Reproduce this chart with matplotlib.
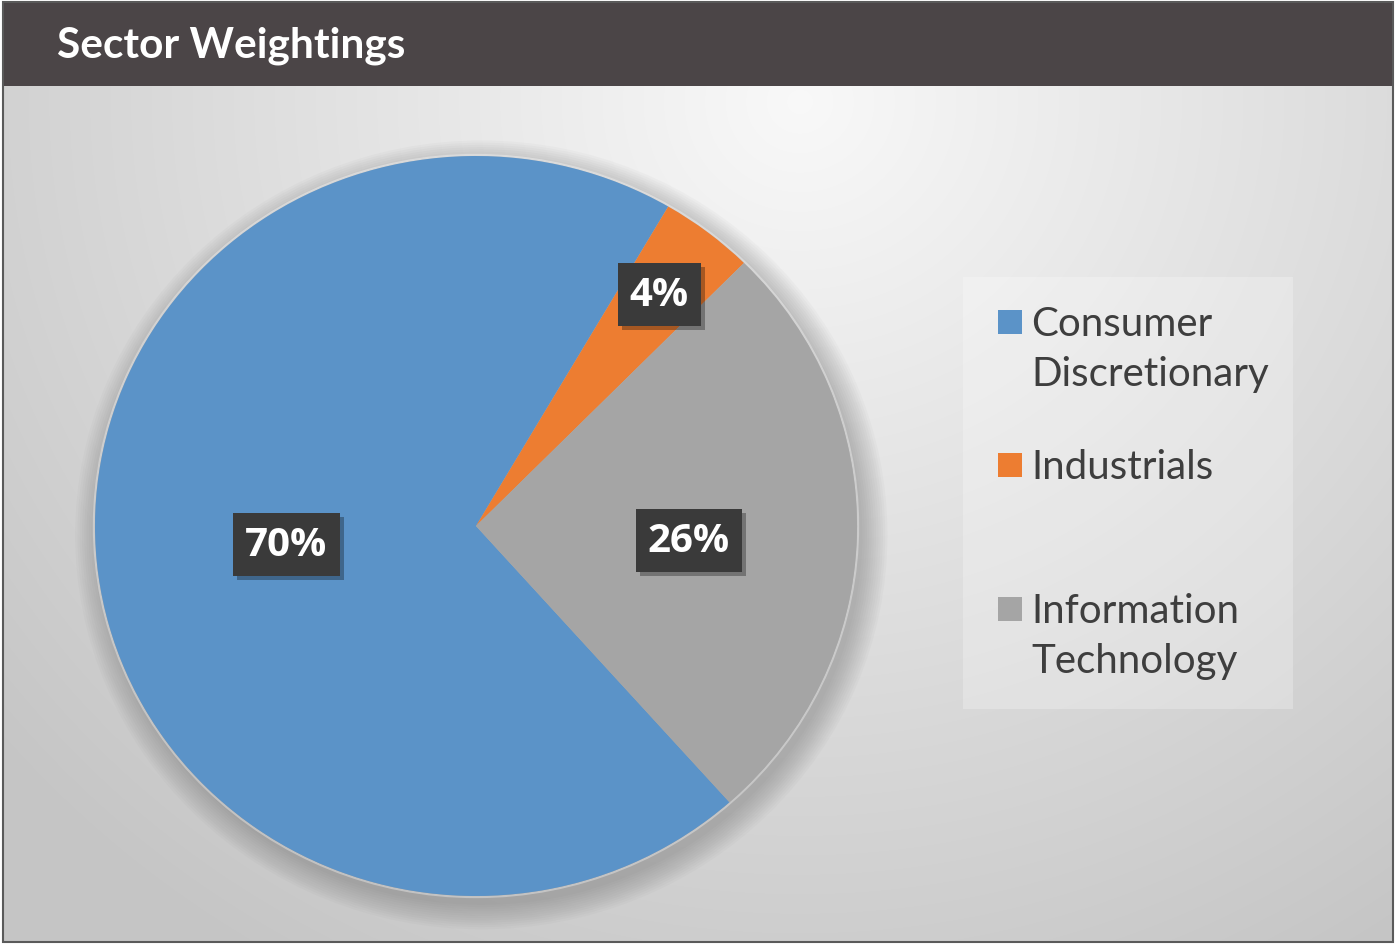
import numpy as np
import matplotlib.pyplot as plt
import matplotlib.patheffects as pe
from matplotlib.patches import Rectangle, Ellipse

# sector weights
sectors = ['Consumer\nDiscretionary', 'Industrials', 'Information\nTechnology']
weights = [70, 4, 26]
colors = ['#5b93c8', '#ed7d31', '#a5a5a5']
label_dist = [0.50, 0.79, 0.56]
label_turn = [0.0, 0.0, -2.5]   # small angular nudge (deg) for the value tags

W, H = 1396, 945
fig = plt.figure(figsize=(W / 100, H / 100), dpi=100)
fig.patch.set_facecolor('white')

bg = fig.add_axes([0, 0, 1, 1])
bg.set_xlim(0, W)
bg.set_ylim(H, 0)
bg.axis('off')

# soft radial fill behind everything
yy, xx = np.mgrid[0:H, 0:W]
d = np.clip(np.hypot(xx - 800, (yy - 100) * 1.05) / 1050, 0, 1)
shade = 0.975 - 0.20 * d
bg.imshow(np.dstack([shade] * 3), extent=(3, 1393, 943, 3), aspect='auto', zorder=0)

# header bar + title
bg.add_patch(Rectangle((3, 3), 1390, 84, facecolor='#4b4547', edgecolor='none', zorder=1))
bg.text(57, 46, 'Sector Weightings', color='white', fontsize=30.5, fontweight='bold',
        family='Lato', va='center', ha='left', zorder=2)
bg.add_patch(Rectangle((3, 3), 1390, 940, fill=False, edgecolor='#5a5a5a', lw=1.5, zorder=3))

# legend panel
bg.add_patch(Rectangle((963, 278), 330, 432, facecolor='white', alpha=0.25,
                       edgecolor='none', zorder=1))
legend_y = [323, 466, 610]
for name, col, y in zip(sectors, colors, legend_y):
    bg.add_patch(Rectangle((998, y - 12), 24, 24, facecolor=col, edgecolor='none', zorder=2))
    bg.text(1031, y - 17, name, color='#3e3e3e', fontsize=29, family='Lato',
            va='top', ha='left', linespacing=1.42, zorder=2)

# pie
cx, cy, rx, ry = 476, 527, 381, 370
pax = fig.add_axes([(cx - rx) / W, 1 - (cy + ry) / H, 2 * rx / W, 2 * ry / H])

# blurred shadow under the pie
for k in range(12):
    s = 1.0 + 0.006 * k
    pax.add_patch(Ellipse((0.014, -0.024), 2 * s, 2 * s, facecolor='#6e6e6e',
                          alpha=0.04, edgecolor='none', clip_on=False, zorder=0))

wedges, _ = pax.pie(weights, colors=colors, startangle=-48.3, counterclock=False,
                    radius=1, wedgeprops=dict(linewidth=0, zorder=2))
pax.add_patch(Ellipse((0, 0), 2.006, 2.006, fill=False, edgecolor='white',
                      alpha=0.35, lw=1.5, clip_on=False, zorder=1))
pax.set_aspect('auto')
pax.set_xlim(-1, 1)
pax.set_ylim(-1, 1)
pax.axis('off')

for w, v, r, t in zip(wedges, weights, label_dist, label_turn):
    ang = np.deg2rad((w.theta1 + w.theta2) / 2 + t)
    x, y = r * np.cos(ang), r * np.sin(ang)
    txt = pax.text(x, y, f'{v}%', color='white', fontsize=29, fontweight='bold',
                   family='Open Sans', ha='center', va='center',
                   bbox=dict(boxstyle='square,pad=0.3', facecolor='#3a3a3a',
                             edgecolor='none'), zorder=5)
    txt.get_bbox_patch().set_path_effects(
        [pe.SimplePatchShadow(offset=(3, -3), shadow_rgbFace='black', alpha=0.3), pe.Normal()])

fig.savefig('out.png', dpi=100, facecolor=fig.get_facecolor())
